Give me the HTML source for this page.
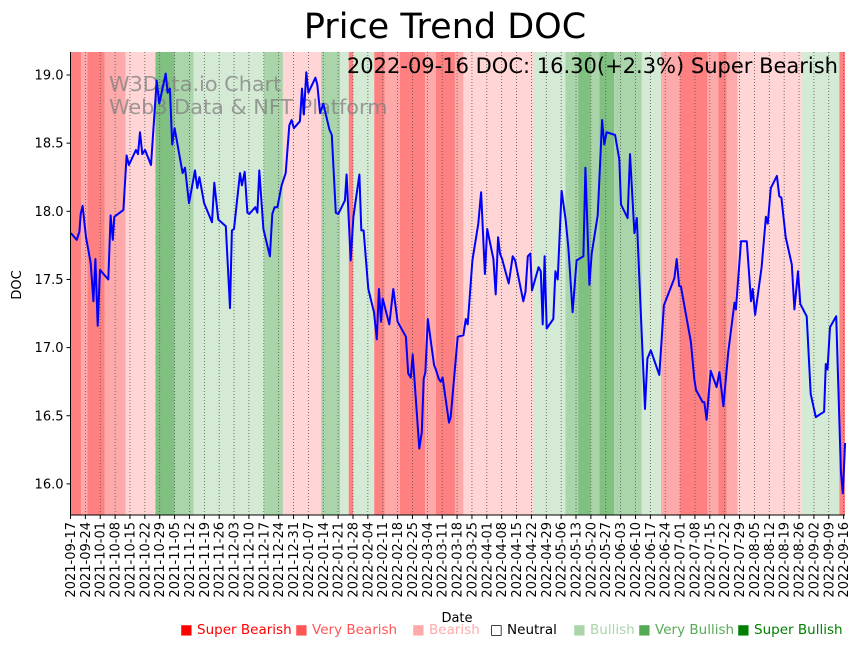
<!DOCTYPE html>
<html><head><meta charset="utf-8">
<style>
body{margin:0;background:#fff;width:862px;height:646px;overflow:hidden;font-family:"Liberation Sans","DejaVu Sans",sans-serif;}
svg text{font-family:"DejaVu Sans","Liberation Sans",sans-serif;}
</style></head>
<body>
<svg id="chart" width="862" height="646" xmlns="http://www.w3.org/2000/svg">
<text x="445" y="38" text-anchor="middle" font-size="35">Price Trend DOC</text>
<g id="bands"></g>
<g id="grid"></g>
<g fill="#808080" opacity="0.75" font-size="20.8">
<text x="109" y="91">W3Data.io Chart</text>
<text x="109" y="114">Web3 Data &amp; NFT Platform</text>
</g>
<path id="line" fill="none" stroke="#0000ff" stroke-width="2" stroke-linejoin="round"/>
<text x="838" y="73" text-anchor="end" font-size="21">2022-09-16 DOC: 16.30(+2.3%) Super Bearish</text>
<g id="axes"></g>
<text transform="translate(21,285) rotate(-90)" text-anchor="middle" font-size="13">DOC</text>
<text x="457" y="622" text-anchor="middle" font-size="13">Date</text>
<g id="legend" font-size="13.5"></g>
</svg>
<script>
const bandStarts=[0,5,8,16,26,40,49,58,91,100,118,127,131,133,143,148,155,167,172,181,185,218,233,239,245,249,256,269,278,287,300,305,309,314,344,362];
const bandEnds=[5,8,16,26,40,49,58,91,100,118,127,131,133,143,148,155,167,172,181,185,218,233,239,245,249,256,269,278,287,300,305,309,314,344,362,365];
const bandLevels=[-3,-2,-3,-2,-1,3,2,1,2,-1,2,1,-3,1,-3,-2,-3,-2,-3,-2,-1,1,2,3,2,3,2,1,-2,-3,-2,-3,-2,-1,1,-3];
const days=[0.2,2.9,4.2,4.8,5.7,7.3,9.5,10.8,11.7,12.8,13.9,17.8,18.9,19.9,20.6,24.9,26.4,27.5,30.8,31.8,32.7,33.8,35.1,37.9,40.6,41.8,44.8,45.7,46.8,47.9,49.0,52.8,53.9,55.8,58.6,59.7,60.7,62.9,66.6,67.7,69.6,73.1,75.1,76.0,77.0,79.8,80.7,82.0,83.3,84.2,87.0,88.0,88.9,90.8,93.9,95.0,96.1,97.4,99.4,101.3,103.0,104.1,105.2,108.0,109.0,109.9,111.0,112.0,115.3,116.2,117.5,119.0,121.9,123.0,124.9,126.1,129.2,130.0,131.9,133.2,136.0,136.9,138.0,140.2,142.9,144.2,145.2,146.2,147.0,150.1,152.0,154.0,157.9,159.0,160.2,161.1,164.2,165.4,166.3,167.1,168.2,171.2,172.0,173.4,174.3,175.2,178.2,179.0,182.3,185.0,186.1,187.0,189.2,192.0,193.3,195.1,196.2,199.1,200.2,201.3,202.2,203.2,206.3,208.2,209.3,213.2,214.2,215.3,216.5,217.3,220.4,221.4,222.3,223.2,224.2,227.3,228.3,229.4,231.2,233.1,234.4,236.4,238.3,241.5,242.4,244.3,245.4,248.2,250.3,251.3,252.4,256.4,258.4,259.2,262.3,263.4,265.5,266.6,268.9,270.5,271.6,273.2,277.2,279.4,284.3,285.4,286.6,287.4,292.1,293.7,294.5,297.6,298.4,299.5,301.4,304.2,305.5,307.4,309.7,312.6,313.3,315.7,318.4,320.4,321.2,322.3,325.4,327.4,328.3,329.7,332.6,333.7,334.7,336.7,339.6,340.8,342.5,343.6,346.6,348.5,350.9,354.8,355.6,356.4,357.6,360.5,362.7,363.6,364.7];
const prices=[17.84,17.79,17.85,17.98,18.04,17.81,17.62,17.34,17.65,17.16,17.57,17.50,17.97,17.79,17.96,18.01,18.41,18.34,18.45,18.42,18.58,18.42,18.45,18.34,18.96,18.79,19.01,18.87,18.90,18.49,18.61,18.28,18.32,18.06,18.30,18.17,18.25,18.06,17.92,18.21,17.94,17.89,17.29,17.86,17.87,18.28,18.19,18.29,17.99,17.98,18.03,17.99,18.30,17.87,17.67,17.98,18.03,18.03,18.19,18.28,18.63,18.67,18.61,18.66,18.90,18.71,19.02,18.87,18.98,18.93,18.72,18.79,18.60,18.56,17.99,17.98,18.08,18.27,17.64,17.96,18.27,17.86,17.86,17.43,17.26,17.06,17.43,17.19,17.36,17.17,17.43,17.19,17.08,16.81,16.78,16.95,16.26,16.38,16.77,16.82,17.21,16.87,16.84,16.77,16.75,16.78,16.45,16.49,17.08,17.09,17.21,17.17,17.64,17.91,18.14,17.54,17.87,17.65,17.39,17.81,17.69,17.65,17.47,17.67,17.64,17.34,17.41,17.67,17.69,17.42,17.59,17.56,17.17,17.67,17.14,17.21,17.56,17.50,18.15,17.94,17.73,17.26,17.64,17.67,18.32,17.46,17.69,17.97,18.67,18.49,18.58,18.56,18.38,18.05,17.95,18.42,17.84,17.95,17.12,16.55,16.92,16.98,16.80,17.31,17.51,17.65,17.45,17.45,17.04,16.77,16.69,16.60,16.60,16.47,16.83,16.71,16.82,16.57,16.97,17.33,17.28,17.78,17.78,17.34,17.43,17.24,17.59,17.96,17.91,18.17,18.26,18.11,18.10,17.81,17.61,17.28,17.56,17.32,17.23,16.66,16.49,16.53,16.88,16.84,17.15,17.23,16.09,15.93,16.30];
const yTicks=[16.0,16.5,17.0,17.5,18.0,18.5,19.0];
const legendLabels=["Super Bearish","Very Bearish","Bearish","Neutral","Bullish","Very Bullish","Super Bullish"];

const NS="http://www.w3.org/2000/svg";
const X0=70.5,X1=845,T=52,B=515;
const x=d=>X0+d*2.124;
const y=v=>75+(19-v)*136.3;
function mk(tag,attrs,parent){const e=document.createElementNS(NS,tag);for(const k in attrs)e.setAttribute(k,attrs[k]);parent.appendChild(e);return e;}
const bandColor={"-3":"#ff8080","-2":"#ffaaaa","-1":"#ffd5d5","1":"#d5ead5","2":"#aad5aa","3":"#80c080"};
const gB=document.getElementById('bands');
bandLevels.forEach((lv,i)=>{
  const r=mk('rect',{x:x(bandStarts[i]),y:T,width:Math.max(0,Math.min(x(bandEnds[i]),X1)-x(bandStarts[i])),height:B-T,fill:bandColor[lv]},gB);
  
  
});
const gG=document.getElementById('grid'),gA=document.getElementById('axes');
const start=Date.UTC(2021,8,17);
for(let k=0;k<=52;k++){
  const d=k*7,xx=x(d);
  const gl=mk('line',{x1:xx,x2:xx,y1:T,y2:B,stroke:'#555',"stroke-width":0.8,"stroke-dasharray":"1,2"},gG);
  
  
  mk('line',{x1:xx,x2:xx,y1:B,y2:B+4,stroke:'#000',"stroke-width":1},gA);
  const dt=new Date(start+d*86400000).toISOString().slice(0,10);
  const t=mk('text',{transform:`translate(${xx+4.5},${B+7}) rotate(-90)`,"text-anchor":"end","font-size":13},gA);
  t.textContent=dt;
  
  
}
yTicks.forEach(v=>{
  const yy=y(v);
  mk('line',{x1:X0-4,x2:X0,y1:yy,y2:yy,stroke:'#000'},gA);
  const t=mk('text',{x:X0-7,y:yy+4.5,"text-anchor":"end","font-size":13},gA);
  t.textContent=v.toFixed(1);
  
  
});
mk('line',{x1:X0,x2:X0,y1:T,y2:B,stroke:'#000',"stroke-width":1},gA);
mk('line',{x1:X0,x2:X1,y1:B,y2:B,stroke:'#000',"stroke-width":1},gA);
document.getElementById('line').setAttribute('d',days.map((d,i)=>(i?'L':'M')+x(d).toFixed(1)+','+y(prices[i]).toFixed(1)).join(''));
const lg=document.getElementById('legend');
const lc=["#ff0000","#ff5555","#ffaaaa","#000","#aad5aa","#55aa55","#008000"];
const lx=[180,295,412,490,573,638,737];
legendLabels.forEach((l,i)=>{
  const t=mk('text',{x:lx[i],y:634,fill:lc[i]},lg);
  t.textContent=(i==3?'□ ':'■ ')+l;
  
  
});
</script>
</body></html>
